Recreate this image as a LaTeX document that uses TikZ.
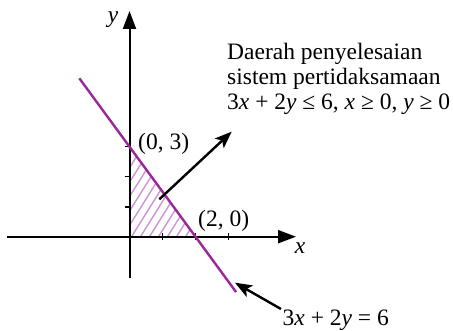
\documentclass[tikz,border=0pt]{standalone}
\usepackage{fontspec}
\setmainfont{Liberation Serif}
\usetikzlibrary{arrows.meta}
\definecolor{lineP}{RGB}{155,40,155}
\definecolor{hatchP}{RGB}{204,150,214}
\begin{document}
\begin{tikzpicture}[x=1pt,y=1pt,
  lbl/.style={font=\fontsize{23.5}{25}\selectfont, inner sep=0pt},
  axis/.style={line width=2pt, -{Triangle[length=18pt,width=13pt]}},
  pointer/.style={line width=2.4pt, -{Stealth[length=17pt,width=13pt,inset=4pt]}},
  tick/.style={line width=1.6pt},
  hatch/.style={line width=1.4pt, hatchP}]
\useasboundingbox (0,0) rectangle (453,330);
% origin and units
\coordinate (O) at (129.5,93.3);
\coordinate (A) at (195.5,93.3);   % (2,0)
\coordinate (B) at (129.5,183.3);  % (0,3)
% hatching
\begin{scope}
  \clip (O) -- (A) -- (B) -- cycle;
  \foreach \k in {-8,...,8}{
    \draw[hatch] (131.5+9*\k,93.3) -- ++(70,112);
  }
\end{scope}
% axes
\coordinate (xl) at (7,93.3);
\coordinate (xr) at (296,93.3);
\coordinate (yb) at (129.5,52);
\coordinate (yt) at (129.5,319);
\draw[axis] (xl) -- (xr);
\draw[axis] (yb) -- (yt);
% ticks
\foreach \i in {1,2,3}{
  \draw[tick] (129.5+33*\i,89.8) -- (129.5+33*\i,97);
  \draw[tick] (124.5,93.3+30*\i) -- (129.5,93.3+30*\i);
}
% boundary line 3x+2y=6
\coordinate (L1) at (129.5-1.52*33,93.3+5.28*30);
\coordinate (L2) at (129.5+3.23*33,93.3-1.845*30);
\draw[line width=2.4pt, lineP] (L1) -- (L2);
% labels
\node[lbl, font=\fontsize{23.5}{25}\selectfont\itshape] (ylab) at (113,310) {y};
\node[lbl, font=\fontsize{23.5}{25}\selectfont\itshape] (xlab) at (300,82) {x};
\node[lbl, anchor=west] (p03) at (138,186.5) {(0, 3)};
\node[lbl, anchor=west] (p20) at (198,109.5) {(2, 0)};
\node[lbl, anchor=base west] (t1) at (227,270) {Daerah penyelesaian};
\node[lbl, anchor=base west] (t2) at (227,245) {sistem pertidaksamaan};
\node[lbl, anchor=base west] (t3) at (227,220) {3\textit{x} + 2\textit{y} ≤ 6, \textit{x} ≥ 0, \textit{y} ≥ 0};
\node[lbl, anchor=base west] (eq) at (282.5,4.5) {3\textit{x} + 2\textit{y} = 6};
% pointer arrows
\coordinate (m1) at (159.3,130.7);
\coordinate (m2) at (231.7,198.3);
\draw[pointer] (m1) -- (m2);
\coordinate (b1) at (281,21);
\coordinate (b2) at (235,47.3);
\draw[pointer] (b1) -- (b2);
\end{tikzpicture}
\end{document}
